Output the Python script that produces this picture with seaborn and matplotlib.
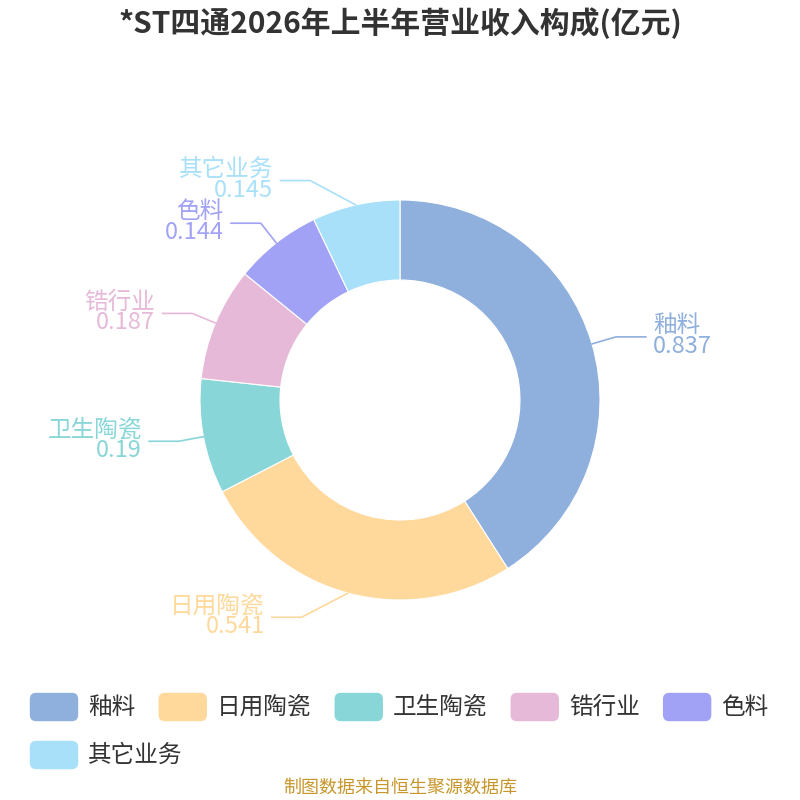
import numpy as np
import matplotlib
matplotlib.use("Agg")
import matplotlib.pyplot as plt
from matplotlib.patches import FancyBboxPatch
import seaborn as sns

# =========================
# DATA
# =========================
names = ["釉料", "日用陶瓷", "卫生陶瓷", "锆行业", "色料", "其它业务"]
values = [0.837, 0.541, 0.19, 0.187, 0.144, 0.145]
colors = ["#8fafdc", "#ffd99b", "#88d6d8", "#e7b9d8", "#a1a2f5", "#a8e0fa"]

title = "*ST四通2026年上半年营业收入构成(亿元)"
source = "制图数据来自恒生聚源数据库"

sns.set_style("white")
plt.rcParams["font.family"] = ["Noto Sans CJK SC", "DejaVu Sans"]

fig = plt.figure(figsize=(8, 8), dpi=100)
ax = fig.add_axes([0, 0, 1, 1])

# =========================
# DONUT
# =========================
wedges, _ = ax.pie(values, colors=colors, startangle=90, counterclock=False,
                   radius=2, center=(0, 0),
                   wedgeprops=dict(width=0.8, edgecolor="white", linewidth=0.8),
                   frame=True)
ax.set_xlim(-4, 4)
ax.set_ylim(-4, 4)
ax.set_aspect("equal")
ax.axis("off")

# labels with leader lines
for w, name, val, col in zip(wedges, names, values, colors):
    ang = np.deg2rad((w.theta1 + w.theta2) / 2)
    c, s = np.cos(ang), np.sin(ang)
    p0 = (2.0 * c, 2.0 * s)
    ex, ey = 2.25 * c, 2.25 * s
    if abs(s) > 0.9:
        ex += 0.4 * np.sign(c)
    side = 1 if c >= 0 else -1
    hx = ex + 0.3 * side
    ax.plot([p0[0], ex, hx], [p0[1], ey, ey], color=col, lw=1.2)
    ha = "left" if side > 0 else "right"
    tx = hx + 0.07 * side
    ax.text(tx, ey + 0.0, name, color=col, fontsize=17, ha=ha, va="bottom")
    ax.text(tx, ey + 0.02, f"{val:g}", color=col, fontsize=17, ha=ha, va="top")

# =========================
# TITLE / SOURCE
# =========================
fig.text(0.5, 0.971, title, ha="center", va="center", fontsize=21.5,
         fontweight="bold", color="#333333")
fig.text(0.5, 0.015, source, ha="center", va="center", fontsize=13,
         color="#c8962a")

# =========================
# LEGEND (rounded swatches)
# =========================
fig.canvas.draw()
renderer = fig.canvas.get_renderer()
W, H = 800, 800
x = 30
y = 707
for name, col in zip(names, colors):
    t = fig.text(0, 0, name, ha="left", va="center", fontsize=17,
                 color="#333333")
    tw = t.get_window_extent(renderer).width
    if x + 58 + tw > 785:
        x = 30
        y += 48
    t.set_position(((x + 58) / W, (H - y) / H))
    box = FancyBboxPatch(((x + 3) / W, (H - y - 11) / H), 42 / W, 22 / H,
                         boxstyle="round,pad=0.004,rounding_size=0.008",
                         transform=fig.transFigure, facecolor=col,
                         edgecolor="none")
    fig.patches.append(box)
    x = x + 58 + tw + 23.5

fig.savefig("out.png", dpi=100)
